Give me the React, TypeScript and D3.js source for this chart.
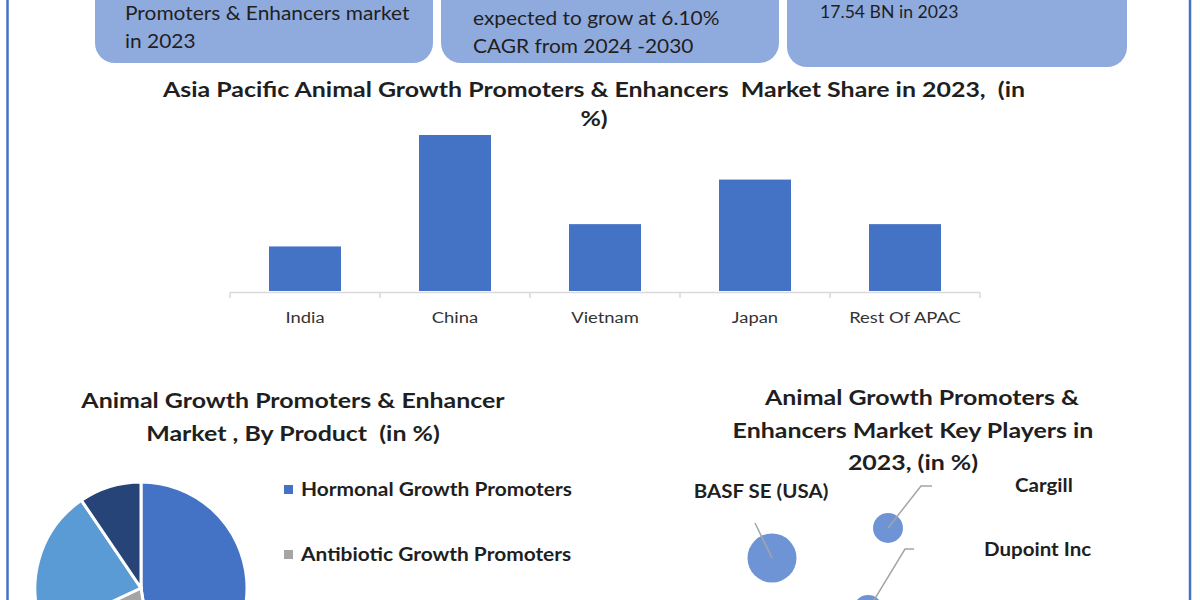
import React from 'react';
import * as d3 from 'd3';

// top info boxes (their upper part is cut off in the source picture)
const boxLines = [
  ['Promoters & Enhancers market', 'in 2023'],
  ['expected to grow at 6.10%', 'CAGR from 2024 -2030'],
  ['17.54 BN in 2023'],
];

// bar chart: market share by country
const countries = ['India', 'China', 'Vietnam', 'Japan', 'Rest Of APAC'];
const shares = [10, 35, 15, 25, 15];

// pie chart: by product
const products = [
  'Hormonal Growth Promoters',
  'Antibiotic Growth Promoters',
  'Probiotics & Prebiotics',
  'Others',
];
const productShares = [47.5, 20.5, 22.5, 9.5];
const productColors = ['#4472C4', '#A5A5A5', '#5B9BD5', '#264478'];

// bubble chart: key players
const players = ['BASF SE (USA)', 'Cargill', 'Dupoint Inc'];
const playerX = [1.8, 4.7, 4.2];
const playerY = [4.6, 6.1, 2.0];
const playerSize = [8, 3, 3];

const FONT = "Lato, 'Open Sans', sans-serif";
const TEXT = '#1f1f1f';
const BLUE = '#4472C4';

// label placement relative to bubble centre: leader line points + label anchor
const labelLayout = [
  { line: [[-17, -35]], label: [-11, -60], anchor: 'middle' },
  { line: [[33, -42], [44, -42]], label: [127, -36], anchor: 'start' },
  { line: [[37, -61], [46, -61]], label: [116, -54], anchor: 'start' },
];

const boxes = [
  { x: 95, w: 338, bottom: 63, tx: 125, ty: [20, 48], fs: 19, sx: 1.1 },
  { x: 441, w: 338, bottom: 63, tx: 473, ty: [25, 53], fs: 19, sx: 1.1 },
  { x: 787, w: 340, bottom: 67, tx: 820, ty: [18], fs: 16.5, sx: 1.07 },
];

// text stretched horizontally a little, as in the source picture
const T = ({ x, y, sx = 1, children, ...rest }: any) => (
  <text
    transform={`translate(${x},${y}) scale(${sx},1)`}
    style={{ whiteSpace: 'pre' }}
    {...rest}
  >
    {children}
  </text>
);

const TITLE = { fontSize: 21.5, fontWeight: 'bold', fill: TEXT, textAnchor: 'middle', sx: 1.16 };

const App = () => {
  // bar scales
  const x = d3
    .scaleBand<string>()
    .domain(countries)
    .range([230, 980])
    .paddingInner(0.52)
    .paddingOuter(0.26);
  const y = d3.scaleLinear().domain([0, 35]).range([291, 135]);
  const boundaries = d3.range(countries.length + 1).map((i) => 230 + i * x.step());

  // pie
  const pie = d3.pie<number>().sort(null).startAngle(0).endAngle(2 * Math.PI);
  const arcs = pie(productShares);
  const arc = d3.arc<d3.PieArcDatum<number>>().innerRadius(0).outerRadius(106);

  // bubbles
  const bx = d3.scaleLinear().domain([0, 10]).range([700, 1100]);
  const by = d3.scaleLinear().domain([0, 10]).range([650, 450]);
  const br = d3.scaleSqrt().domain([0, 8]).range([0, 24.5]);

  return (
    <div style={{ position: 'absolute', left: 0, top: 0 }}>
      <svg width={1200} height={600} style={{ display: 'block', background: '#fff' }} fontFamily={FONT}>
        <rect width={1200} height={600} fill="#fff" />

        {/* info boxes */}
        {boxes.map((b, i) => (
          <g key={i}>
            <rect x={b.x} y={-40} width={b.w} height={b.bottom + 40} rx={20} fill="#8FAADC" />
            {boxLines[i].map((t, j) => (
              <T key={j} x={b.tx} y={b.ty[j]} sx={b.sx} fontSize={b.fs} fill={TEXT}>
                {t}
              </T>
            ))}
          </g>
        ))}

        {/* side borders */}
        <line x1={7.5} x2={7.5} y1={0} y2={600} stroke={BLUE} strokeWidth={2.5} />
        <line x1={1190} x2={1190} y1={0} y2={600} stroke={BLUE} strokeWidth={2.5} />

        {/* bar chart */}
        <T x={594} y={97} {...TITLE}>
          Asia Pacific Animal Growth Promoters &amp; Enhancers  Market Share in 2023,  (in
        </T>
        <T x={594} y={126} {...TITLE}>
          %)
        </T>
        {countries.map((c, i) => (
          <rect
            key={c}
            x={x(c)}
            y={y(shares[i])}
            width={x.bandwidth()}
            height={y(0) - y(shares[i])}
            fill={BLUE}
          />
        ))}
        <line x1={230} x2={980} y1={292.5} y2={292.5} stroke="#D9D9D9" strokeWidth={1.5} />
        {boundaries.map((bx0, i) => (
          <line key={i} x1={bx0} x2={bx0} y1={292.5} y2={298} stroke="#D9D9D9" strokeWidth={1.5} />
        ))}
        {countries.map((c) => (
          <T
            key={c}
            x={(x(c) ?? 0) + x.bandwidth() / 2}
            y={323}
            sx={1.15}
            textAnchor="middle"
            fontSize={16}
            fill="#333"
          >
            {c}
          </T>
        ))}

        {/* pie chart */}
        <T x={293} y={408} {...TITLE}>
          Animal Growth Promoters &amp; Enhancer
        </T>
        <T x={293} y={441} {...TITLE}>
          Market , By Product  (in %)
        </T>
        <g transform="translate(141,588)">
          {arcs.map((a, i) => (
            <path key={i} d={arc(a) ?? ''} fill={productColors[i]} stroke="#fff" strokeWidth={3} />
          ))}
        </g>
        {products.map((p, i) => {
          const ly = 489 + i * 65;
          if (ly > 580) return null; // further legend rows fall below the picture
          return (
            <g key={p}>
              <rect x={284} y={ly - 4} width={9} height={9} fill={productColors[i]} />
              <T x={301} y={ly + 7} sx={1.1} fontSize={19} fontWeight="bold" fill={TEXT}>
                {p}
              </T>
            </g>
          );
        })}

        {/* bubble chart */}
        <T x={922} y={405} {...TITLE}>
          Animal Growth Promoters &amp;
        </T>
        <T x={913} y={438} {...TITLE}>
          Enhancers Market Key Players in
        </T>
        <T x={913} y={470} {...TITLE}>
          2023, (in %)
        </T>
        {players.map((p, i) => {
          const cx = bx(playerX[i]);
          const cy = by(playerY[i]);
          const lay = labelLayout[i];
          const pts = [[cx, cy], ...lay.line.map(([dx, dy]) => [cx + dx, cy + dy])] as [number, number][];
          return (
            <g key={p}>
              <circle cx={cx} cy={cy} r={br(playerSize[i])} fill="#6F94D6" />
              <path d={d3.line()(pts) ?? ''} fill="none" stroke="#A5A5A5" strokeWidth={1.5} />
              <T
                x={cx + lay.label[0]}
                y={cy + lay.label[1]}
                sx={1.08}
                textAnchor={lay.anchor}
                fontSize={19}
                fontWeight="bold"
                fill={TEXT}
              >
                {p}
              </T>
            </g>
          );
        })}
      </svg>
    </div>
  );
};

export default App;
